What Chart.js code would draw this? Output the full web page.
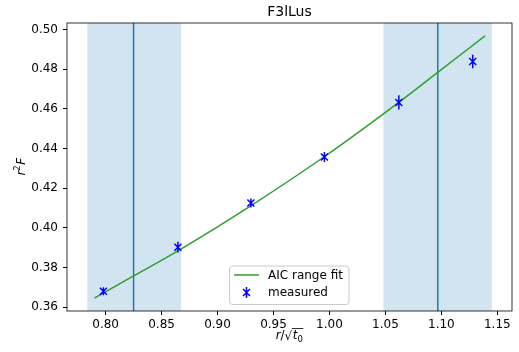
<!DOCTYPE html>
<html>
<head>
<meta charset="utf-8">
<script src="https://cdn.jsdelivr.net/npm/chart.js@4.4.1/dist/chart.umd.min.js"></script>
<style>
  body { margin: 0; background: #fff; }
  canvas { display: block; }
</style>
</head>
<body>
<canvas id="grafico" width="519" height="352"></canvas>
<script>
// datos medidos
const medX = [0.798, 0.8646, 0.9298, 0.9955, 1.062, 1.128];
const medY = [0.3680, 0.3902, 0.4125, 0.4357, 0.4632, 0.4839];
const medErr = [0.0020, 0.0027, 0.0023, 0.0025, 0.0036, 0.0034];

// curva del ajuste (AIC range fit)
const ajusteX = [0.790, 0.825, 0.865, 0.930, 0.995, 1.062, 1.097, 1.139];
const ajusteY = [0.3645, 0.3757, 0.3885, 0.4112, 0.4357, 0.4633, 0.4785, 0.4968];

// bandas sombreadas y lineas verticales
const bandaIni = [0.7837, 1.0482];
const bandaFin = [0.8673, 1.145];
const lineasV = [0.825, 1.0968];

// ticks
const ticksX = [0.80, 0.85, 0.90, 0.95, 1.00, 1.05, 1.10, 1.15];
const ticksY = [0.36, 0.38, 0.40, 0.42, 0.44, 0.46, 0.48, 0.50];

const titulo = 'F3lLus';
const AZUL = '#1f77b4';
const fuente = '"DejaVu Sans", sans-serif';

// marca "x" con barra de error vertical
function dibujaMarca(ctx, px, py, medio) {
    ctx.save();
    ctx.strokeStyle = '#0000ff';
    ctx.lineWidth = 1.5;
    ctx.beginPath();
    ctx.moveTo(px - 3.5, py - 3.5); ctx.lineTo(px + 3.5, py + 3.5);
    ctx.moveTo(px - 3.5, py + 3.5); ctx.lineTo(px + 3.5, py - 3.5);
    ctx.moveTo(px, py - medio); ctx.lineTo(px, py + medio);
    ctx.stroke();
    ctx.restore();
}

const pluginFondo = {
    id: 'fondo',
    beforeDatasetsDraw(chart) {
        const ctx = chart.ctx, a = chart.chartArea, sx = chart.scales.x;
        ctx.save();
        ctx.fillStyle = 'rgba(31,119,180,0.2)';
        for (let i = 0; i < bandaIni.length; i++) {
            const x0 = sx.getPixelForValue(bandaIni[i]);
            const x1 = sx.getPixelForValue(bandaFin[i]);
            ctx.fillRect(x0, a.top, x1 - x0, a.bottom - a.top);
        }
        ctx.strokeStyle = AZUL;
        ctx.lineWidth = 1.5;
        lineasV.forEach(v => {
            const x = sx.getPixelForValue(v);
            ctx.beginPath();
            ctx.moveTo(x, a.top); ctx.lineTo(x, a.bottom);
            ctx.stroke();
        });
        ctx.restore();
    }
};

const pluginExtras = {
    id: 'extras',
    afterDatasetsDraw(chart) {
        const ctx = chart.ctx, sx = chart.scales.x, sy = chart.scales.y;
        // barras de error + marcas
        for (let i = 0; i < medX.length; i++) {
            const px = sx.getPixelForValue(medX[i]);
            const py = sy.getPixelForValue(medY[i]);
            const medio = Math.abs(sy.getPixelForValue(medY[i] + medErr[i]) - py);
            dibujaMarca(ctx, px, py, medio);
        }
    },
    afterDraw(chart) {
        const ctx = chart.ctx, a = chart.chartArea;
        ctx.save();
        // marco
        ctx.strokeStyle = '#000';
        ctx.lineWidth = 0.8;
        ctx.strokeRect(a.left, a.top, a.right - a.left, a.bottom - a.top);

        // titulo
        ctx.fillStyle = '#000';
        ctx.font = '14px ' + fuente;
        ctx.textAlign = 'center';
        ctx.textBaseline = 'alphabetic';
        ctx.fillText(titulo, (a.left + a.right) / 2, 16);

        // leyenda
        const lx = 229.5, ly = 266, lw = 119.5, lh = 38.5;
        ctx.beginPath();
        ctx.roundRect(lx, ly, lw, lh, 3);
        ctx.fillStyle = 'rgba(255,255,255,0.8)';
        ctx.fill();
        ctx.strokeStyle = '#cccccc';
        ctx.lineWidth = 1;
        ctx.stroke();
        ctx.strokeStyle = '#2ca02c';
        ctx.lineWidth = 1.5;
        ctx.beginPath();
        ctx.moveTo(234, 275); ctx.lineTo(259, 275);
        ctx.stroke();
        dibujaMarca(ctx, 246.5, 292.5, 5.5);
        ctx.fillStyle = '#000';
        ctx.font = '12px ' + fuente;
        ctx.textAlign = 'left';
        ctx.textBaseline = 'middle';
        ctx.fillText('AIC range fit', 268, 275.5);
        ctx.fillText('measured', 268, 293);

        // titulo eje y: r^2 F
        ctx.save();
        ctx.translate(21, (a.top + a.bottom) / 2);
        ctx.rotate(-Math.PI / 2);
        ctx.textBaseline = 'alphabetic';
        ctx.font = 'italic 12px ' + fuente;
        const wr = ctx.measureText('r').width;
        ctx.font = '8.5px ' + fuente;
        const w2 = ctx.measureText('2').width;
        ctx.font = 'italic 12px ' + fuente;
        const wF = ctx.measureText('F').width;
        let x0 = -(wr + w2 + wF) / 2;
        ctx.fillText('r', x0, 4);
        ctx.font = '8.5px ' + fuente;
        ctx.fillText('2', x0 + wr, -1);
        ctx.font = 'italic 12px ' + fuente;
        ctx.fillText('F', x0 + wr + w2 + 0.5, 4);
        ctx.restore();

        // titulo eje x: r/sqrt(t_0)
        ctx.save();
        ctx.textBaseline = 'alphabetic';
        const base = 339;
        ctx.font = 'italic 12px ' + fuente;
        const a1 = ctx.measureText('r').width;
        ctx.font = '12px ' + fuente;
        const a2 = ctx.measureText('/').width;
        const a3 = ctx.measureText('\u221A').width;
        ctx.font = 'italic 12px ' + fuente;
        const a4 = ctx.measureText('t').width;
        ctx.font = '8.5px ' + fuente;
        const a5 = ctx.measureText('0').width;
        const total = a1 + a2 + a3 + a4 + a5 + 1;
        let cx = (a.left + a.right) / 2 - total / 2;
        ctx.font = 'italic 12px ' + fuente;
        ctx.fillText('r', cx, base); cx += a1;
        ctx.font = '12px ' + fuente;
        ctx.fillText('/', cx, base); cx += a2;
        ctx.fillText('\u221A', cx, base + 1);
        const inicioBarra = cx + a3 - 0.5; cx += a3;
        ctx.font = 'italic 12px ' + fuente;
        ctx.fillText('t', cx + 0.5, base); cx += a4 + 0.5;
        ctx.font = '8.5px ' + fuente;
        ctx.fillText('0', cx, base + 3); cx += a5 + 0.5;
        ctx.strokeStyle = '#000';
        ctx.lineWidth = 0.8;
        ctx.beginPath();
        ctx.moveTo(inicioBarra, base - 10.5); ctx.lineTo(cx, base - 10.5);
        ctx.stroke();
        ctx.restore();

        ctx.restore();
    }
};

const ctx = document.getElementById('grafico').getContext('2d');

new Chart(ctx, {
    type: 'scatter',
    data: {
        datasets: [{
            label: 'AIC range fit',
            data: ajusteX.map((x, i) => ({ x: x, y: ajusteY[i] })),
            showLine: true,
            borderColor: '#2ca02c',
            borderWidth: 1.5,
            pointRadius: 0,
            cubicInterpolationMode: 'monotone',
            fill: false
        }]
    },
    options: {
        responsive: false,
        animation: false,
        devicePixelRatio: 1,
        layout: { padding: { left: 0, top: 23, right: 7, bottom: 0 } },
        plugins: {
            legend: { display: false },
            title: { display: false },
            tooltip: { enabled: false }
        },
        scales: {
            x: {
                type: 'linear',
                min: 0.7655,
                max: 1.1631,
                afterBuildTicks: s => { s.ticks = ticksX.map(v => ({ value: v })); },
                afterFit: s => { s.height = 41; },
                grid: { drawOnChartArea: false, drawTicks: true, tickLength: 4, tickColor: '#000' },
                border: { display: false },
                ticks: {
                    color: '#000',
                    font: { family: fuente, size: 12 },
                    padding: 3,
                    maxRotation: 0,
                    callback: v => v.toFixed(2)
                }
            },
            y: {
                type: 'linear',
                min: 0.358,
                max: 0.5033,
                afterBuildTicks: s => { s.ticks = ticksY.map(v => ({ value: v })); },
                afterFit: s => { s.width = 67; },
                grid: { drawOnChartArea: false, drawTicks: true, tickLength: 4, tickColor: '#000' },
                border: { display: false },
                ticks: {
                    color: '#000',
                    font: { family: fuente, size: 12 },
                    padding: 5,
                    callback: v => v.toFixed(2)
                }
            }
        }
    },
    plugins: [pluginFondo, pluginExtras]
});
</script>
</body>
</html>
